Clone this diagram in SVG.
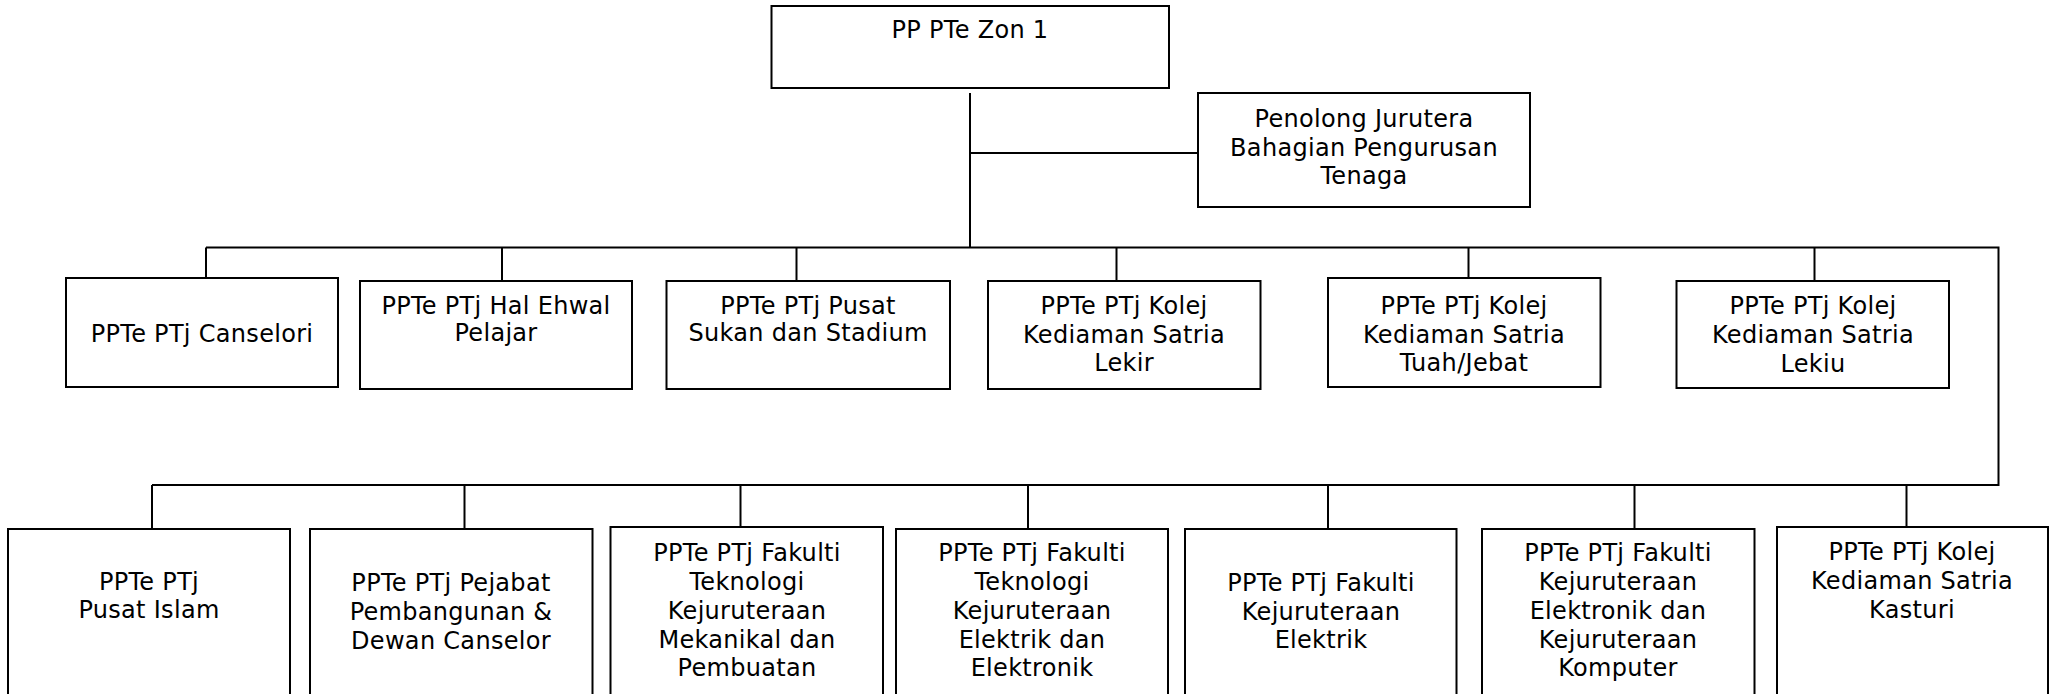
<svg xmlns="http://www.w3.org/2000/svg" width="2057" height="694" viewBox="0 0 2057 694">
  <style>
    .box { fill: #ffffff; stroke: #000000; stroke-width: 2; }
    .lbl { font-family: "DejaVu Sans", Verdana, sans-serif; font-size: 24px; letter-spacing: 0.3px; fill: #000000; text-anchor: middle; }
    .wire { fill: none; stroke: #000000; stroke-width: 2; }
  </style>
  <rect width="2057" height="694" fill="#ffffff"/>

  <!-- connectors -->
  <g id="connectors" class="wire">
    <path d="M970 93 V247.5"/>
    <path d="M970 153 H1198"/>
    <path d="M206 247.5 H1998.5 V485 H152"/>
    <path d="M206 247.5 V278"/>
    <path d="M502 247.5 V281"/>
    <path d="M796.5 247.5 V281"/>
    <path d="M1116.5 247.5 V281"/>
    <path d="M1468.5 247.5 V278"/>
    <path d="M1814.5 247.5 V281"/>
    <path d="M152 485 V529"/>
    <path d="M464.5 485 V529"/>
    <path d="M740.5 485 V527"/>
    <path d="M1028 485 V529"/>
    <path d="M1328 485 V529"/>
    <path d="M1634.5 485 V529"/>
    <path d="M1906.5 485 V527"/>
  </g>

  <!-- head -->
  <g id="zon1">
    <rect class="box" x="771.5" y="6" width="397.5" height="82"/>
    <text class="lbl" x="970" y="38">PP PTe Zon 1</text>
  </g>
  <g id="penolong">
    <rect class="box" x="1198" y="93" width="332" height="114"/>
    <text class="lbl" x="1364" y="127"><tspan x="1364">Penolong Jurutera</tspan><tspan x="1364" dy="28.5">Bahagian Pengurusan</tspan><tspan x="1364" dy="28.5">Tenaga</tspan></text>
  </g>

  <!-- first row -->
  <g id="canselori">
    <rect class="box" x="66" y="278" width="272" height="109"/>
    <text class="lbl" x="202" y="342">PPTe PTj Canselori</text>
  </g>
  <g id="hep">
    <rect class="box" x="360" y="281" width="272" height="108"/>
    <text class="lbl" x="496" y="314"><tspan x="496">PPTe PTj Hal Ehwal</tspan><tspan x="496" dy="27">Pelajar</tspan></text>
  </g>
  <g id="stadium">
    <rect class="box" x="666.5" y="281" width="283.5" height="108"/>
    <text class="lbl" x="808" y="314"><tspan x="808">PPTe PTj Pusat</tspan><tspan x="808" dy="27">Sukan dan Stadium</tspan></text>
  </g>
  <g id="lekir">
    <rect class="box" x="988" y="281" width="272.5" height="108"/>
    <text class="lbl" x="1124" y="314"><tspan x="1124">PPTe PTj Kolej</tspan><tspan x="1124" dy="28.5">Kediaman Satria</tspan><tspan x="1124" dy="28.5">Lekir</tspan></text>
  </g>
  <g id="tuah-jebat">
    <rect class="box" x="1328" y="278" width="272.5" height="109"/>
    <text class="lbl" x="1464" y="314"><tspan x="1464">PPTe PTj Kolej</tspan><tspan x="1464" dy="28.5">Kediaman Satria</tspan><tspan x="1464" dy="28.5">Tuah/Jebat</tspan></text>
  </g>
  <g id="lekiu">
    <rect class="box" x="1676.5" y="281" width="272.5" height="107"/>
    <text class="lbl" x="1813" y="314"><tspan x="1813">PPTe PTj Kolej</tspan><tspan x="1813" dy="28.5">Kediaman Satria</tspan><tspan x="1813" dy="29">Lekiu</tspan></text>
  </g>

  <!-- second row -->
  <g id="pusat-islam">
    <rect class="box" x="8" y="529" width="282" height="180"/>
    <text class="lbl" x="149" y="590"><tspan x="149">PPTe PTj</tspan><tspan x="149" dy="28">Pusat Islam</tspan></text>
  </g>
  <g id="pejabat-pembangunan">
    <rect class="box" x="310" y="529" width="282.5" height="180"/>
    <text class="lbl" x="451" y="591"><tspan x="451">PPTe PTj Pejabat</tspan><tspan x="451" dy="29">Pembangunan &amp;</tspan><tspan x="451" dy="29">Dewan Canselor</tspan></text>
  </g>
  <g id="ftk-mekanikal">
    <rect class="box" x="610.5" y="527" width="272.5" height="182"/>
    <text class="lbl" x="747" y="561"><tspan x="747">PPTe PTj Fakulti</tspan><tspan x="747" dy="29">Teknologi</tspan><tspan x="747" dy="29">Kejuruteraan</tspan><tspan x="747" dy="28.5">Mekanikal dan</tspan><tspan x="747" dy="28.5">Pembuatan</tspan></text>
  </g>
  <g id="ftk-elektrik">
    <rect class="box" x="896" y="529" width="272" height="180"/>
    <text class="lbl" x="1032" y="561"><tspan x="1032">PPTe PTj Fakulti</tspan><tspan x="1032" dy="29">Teknologi</tspan><tspan x="1032" dy="29">Kejuruteraan</tspan><tspan x="1032" dy="28.5">Elektrik dan</tspan><tspan x="1032" dy="28.5">Elektronik</tspan></text>
  </g>
  <g id="fk-elektrik">
    <rect class="box" x="1185" y="529" width="271.5" height="180"/>
    <text class="lbl" x="1321" y="591"><tspan x="1321">PPTe PTj Fakulti</tspan><tspan x="1321" dy="28.5">Kejuruteraan</tspan><tspan x="1321" dy="28.5">Elektrik</tspan></text>
  </g>
  <g id="fk-elektronik-komputer">
    <rect class="box" x="1482" y="529" width="272.5" height="180"/>
    <text class="lbl" x="1618" y="561"><tspan x="1618">PPTe PTj Fakulti</tspan><tspan x="1618" dy="29">Kejuruteraan</tspan><tspan x="1618" dy="29">Elektronik dan</tspan><tspan x="1618" dy="28.5">Kejuruteraan</tspan><tspan x="1618" dy="28.5">Komputer</tspan></text>
  </g>
  <g id="kasturi">
    <rect class="box" x="1777" y="527" width="271" height="182"/>
    <text class="lbl" x="1912" y="560"><tspan x="1912">PPTe PTj Kolej</tspan><tspan x="1912" dy="29">Kediaman Satria</tspan><tspan x="1912" dy="29">Kasturi</tspan></text>
  </g>
</svg>
